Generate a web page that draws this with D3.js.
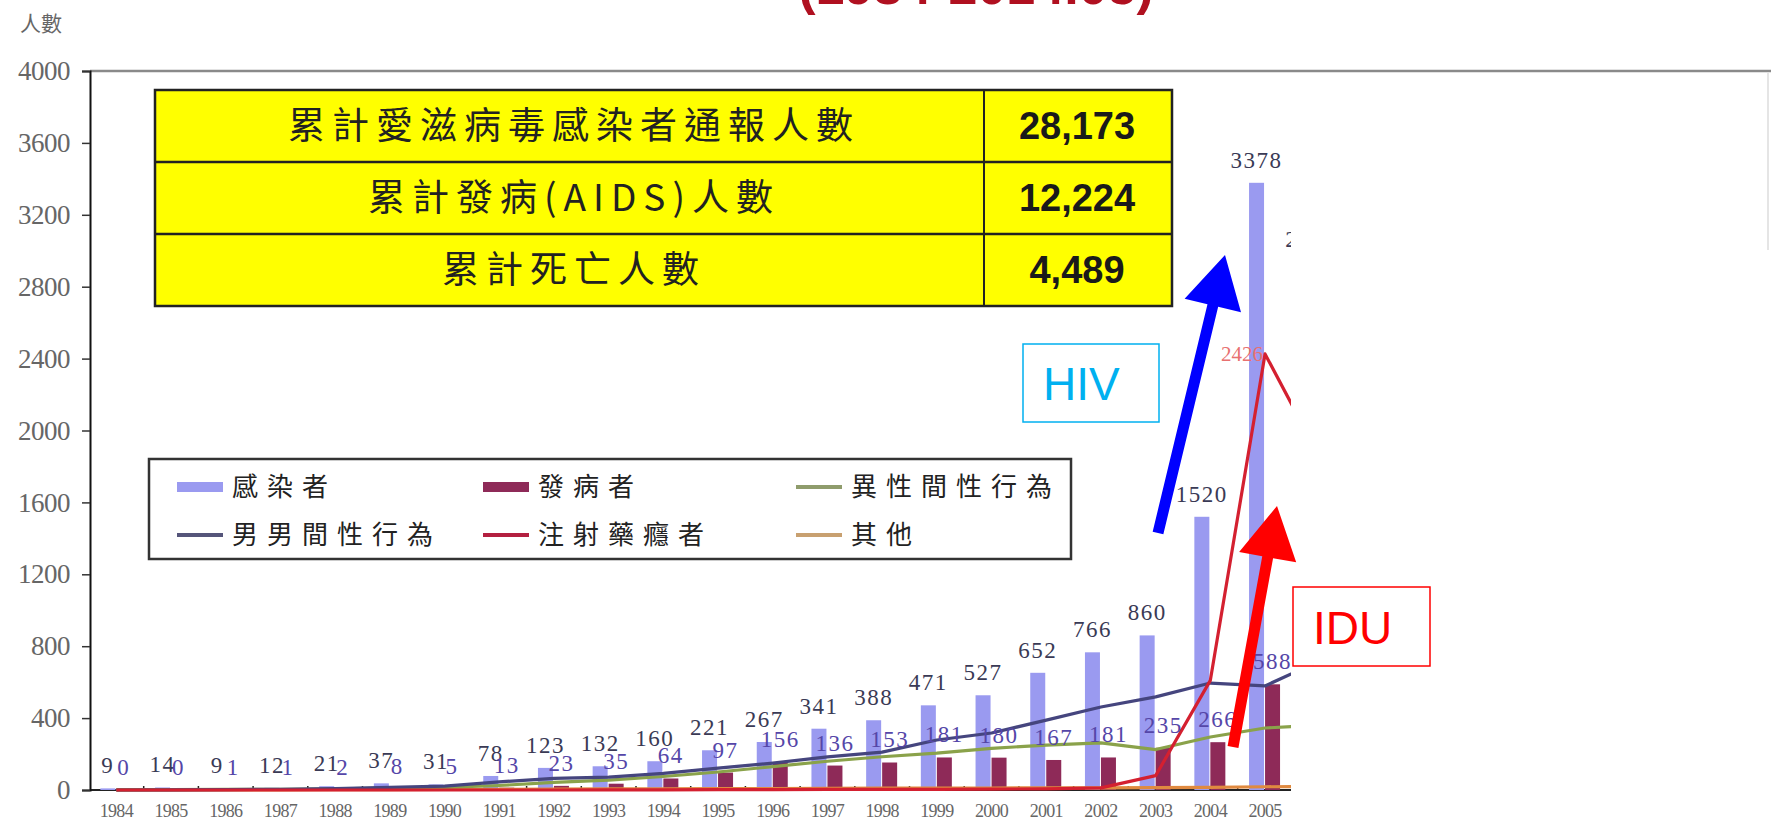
<!DOCTYPE html>
<html>
<head>
<meta charset="utf-8">
<script src="https://cdn.jsdelivr.net/npm/d3@7"></script>
<style>
  body { margin: 0; background: #fff; }
  svg { display: block; }
</style>
</head>
<body>
<div id="chart"></div>
<script>
// data
var years = [1984,1985,1986,1987,1988,1989,1990,1991,1992,1993,1994,1995,1996,1997,1998,1999,2000,2001,2002,2003,2004,2005,2006];
var infected = [9,14,9,12,21,37,31,78,123,132,160,221,267,341,388,471,527,652,766,860,1520,3378,2936];
var onset = [0,0,1,1,2,8,5,13,23,35,64,97,156,136,153,181,180,167,181,235,266,588,600];
var hetero = [1,2,3,4,6,10,14,25,42,55,75,100,130,160,185,205,232,250,262,225,295,345,360];
var msm = [0,1,2,4,8,15,22,45,65,72,92,122,150,184,211,278,317,389,462,518,595,579,720];
var idu = [0,0,0,0,0,0,0,0,0,1,1,2,2,3,3,4,5,6,12,80,610,2426,1850];
var other = [1,1,1,1,2,2,3,4,5,6,7,8,8,9,10,10,11,12,12,13,15,18,20];
var yTicks = [0,400,800,1200,1600,2000,2400,2800,3200,3600,4000];

var summaryLabels = ["累計愛滋病毒感染者通報人數", "累計發病(AIDS)人數", "累計死亡人數"];
var summaryValues = ["28,173", "12,224", "4,489"];

var legendItems = [
  {name: "感染者", type: "bar", color: "#9a9af0"},
  {name: "發病者", type: "bar", color: "#8e2a58"},
  {name: "異性間性行為", type: "line", color: "#8f9c6c"},
  {name: "男男間性行為", type: "line", color: "#55557a"},
  {name: "注射藥癮者", type: "line", color: "#b32040"},
  {name: "其他", type: "line", color: "#c8a070"}
];

var width = 1771, height = 823;
var serif = "'Liberation Serif', 'DejaVu Serif', serif";
var cjk = "'Noto Sans CJK TC', 'Noto Sans CJK SC', sans-serif";
var sans = "'Liberation Sans', Arial, sans-serif";

var svg = d3.select("#chart").append("svg")
  .attr("width", width)
  .attr("height", height);

/* Scale */
var step = 54.7;
var x = d3.scaleBand()
  .domain(years)
  .range([89, 89 + years.length * step]);

var y = d3.scaleLinear()
  .domain([0, 4000])
  .range([790, 71]);

var cx = d => x(d) + x.bandwidth() / 2;

// red title, mostly off the top of the picture
svg.append("text")
  .attr("x", 976).attr("y", 4)
  .attr("text-anchor", "middle")
  .style("font-family", sans)
  .style("font-weight", "bold")
  .style("font-size", "52px")
  .attr("fill", "#b01020")
  .text("(1984-2014.05)");

// y axis caption
svg.append("text")
  .attr("x", 20).attr("y", 31)
  .style("font-family", cjk)
  .style("font-size", "21px")
  .attr("fill", "#666")
  .text("人數");

// frame: top and right edge
svg.append("line")
  .attr("x1", 90).attr("x2", width)
  .attr("y1", y(4000)).attr("y2", y(4000))
  .attr("stroke", "#8a8a8a").attr("stroke-width", 2.5);
svg.append("line")
  .attr("x1", 1768).attr("x2", 1768)
  .attr("y1", 73).attr("y2", 250)
  .attr("stroke", "#ddd").attr("stroke-width", 1.5);

/* plot group, clipped where the slide covers the rest */
svg.append("clipPath").attr("id", "cut")
  .append("rect")
  .attr("x", 0).attr("y", 0)
  .attr("width", 1291).attr("height", height);

var plot = svg.append("g").attr("clip-path", "url(#cut)");

// x baseline and small ticks between years
plot.append("line")
  .attr("x1", 90).attr("x2", width)
  .attr("y1", y(0)).attr("y2", y(0))
  .attr("stroke", "#222").attr("stroke-width", 2);

plot.selectAll(".xtick")
  .data(years).enter()
  .append("line")
  .attr("class", "xtick")
  .attr("x1", d => x(d) + x.bandwidth()).attr("x2", d => x(d) + x.bandwidth())
  .attr("y1", y(0)).attr("y2", y(0) - 4)
  .attr("stroke", "#222").attr("stroke-width", 1.5);

var barW = 15;

plot.selectAll(".bar-inf")
  .data(years).enter()
  .append("rect")
  .attr("class", "bar-inf")
  .attr("x", d => cx(d) - barW - 1)
  .attr("y", (d, i) => y(infected[i]))
  .attr("width", barW)
  .attr("height", (d, i) => y(0) - y(infected[i]))
  .attr("fill", legendItems[0].color);

plot.selectAll(".bar-ons")
  .data(years).enter()
  .append("rect")
  .attr("class", "bar-ons")
  .attr("x", d => cx(d))
  .attr("y", (d, i) => y(onset[i]))
  .attr("width", barW)
  .attr("height", (d, i) => y(0) - y(onset[i]))
  .attr("fill", legendItems[1].color);

/* lines */
var lineSeries = [
  {values: other, color: "#e08a40"},
  {values: hetero, color: "#8aa24a"},
  {values: msm, color: "#45457e"},
  {values: idu, color: "#d42030"}
];

var line = d3.line()
  .x((d, i) => cx(years[i]))
  .y(d => y(d));

plot.selectAll(".series")
  .data(lineSeries).enter()
  .append("path")
  .attr("class", "series")
  .attr("d", d => line(d.values))
  .attr("fill", "none")
  .attr("stroke", d => d.color)
  .attr("stroke-width", 3.2)
  .attr("stroke-linejoin", "round");

/* value labels */
plot.selectAll(".lab-inf")
  .data(years).enter()
  .append("text")
  .attr("class", "lab-inf")
  .attr("x", d => cx(d) - barW / 2 - 1)
  .attr("y", (d, i) => y(infected[i]) - 15)
  .attr("text-anchor", "middle")
  .style("font-family", serif)
  .style("font-size", "23px")
  .style("letter-spacing", "1.5px")
  .attr("fill", "#3a3a55")
  .text((d, i) => infected[i]);

plot.selectAll(".lab-ons")
  .data(years).enter()
  .append("text")
  .attr("class", "lab-ons")
  .attr("x", d => cx(d) + barW / 2)
  .attr("y", (d, i) => y(onset[i]) - 15)
  .attr("text-anchor", "middle")
  .style("font-family", serif)
  .style("font-size", "23px")
  .style("letter-spacing", "1.5px")
  .attr("fill", "#5546a8")
  .text((d, i) => onset[i]);

// peak label of the drug-user line
var peak = years.indexOf(2005);
plot.append("text")
  .attr("x", cx(2005) - 2)
  .attr("y", y(idu[peak]) + 7)
  .attr("text-anchor", "end")
  .style("font-family", serif)
  .style("font-size", "21px")
  .attr("fill", "#e87070")
  .text(idu[peak]);

/* axes */
var yAxis = d3.axisLeft(y).tickValues(yTicks).tickFormat(d3.format("d")).tickSize(8).tickPadding(12);
svg.append("g")
  .attr("class", "y axis")
  .attr("transform", "translate(90,0)")
  .call(yAxis)
  .call(g => g.select(".domain").attr("stroke", "#111").attr("stroke-width", 2))
  .call(g => g.selectAll(".tick line").attr("stroke", "#333").attr("stroke-width", 1.5))
  .call(g => g.selectAll("text")
    .style("font-family", serif)
    .style("font-size", "27px")
    .style("letter-spacing", "-0.5px")
    .attr("fill", "#666"));

var xAxis = d3.axisBottom(x).tickSize(0).tickPadding(14);
plot.append("g")
  .attr("class", "x axis")
  .attr("transform", `translate(0, ${y(0)})`)
  .call(xAxis)
  .call(g => g.select(".domain").remove())
  .call(g => g.selectAll("text")
    .style("font-family", serif)
    .style("font-size", "18px")
    .style("letter-spacing", "-0.7px")
    .attr("fill", "#666"));

/* summary table */
var tbl = svg.append("g");
var tX = 155, tY = 90, tW = 1017, rowH = 72, splitX = 984;
tbl.append("rect")
  .attr("x", tX).attr("y", tY)
  .attr("width", tW).attr("height", rowH * 3)
  .attr("fill", "#ffff00").attr("stroke", "#222").attr("stroke-width", 2.5);
tbl.selectAll(".rowline")
  .data([1, 2]).enter()
  .append("line")
  .attr("x1", tX).attr("x2", tX + tW)
  .attr("y1", d => tY + d * rowH).attr("y2", d => tY + d * rowH)
  .attr("stroke", "#222").attr("stroke-width", 2.5);
tbl.append("line")
  .attr("x1", splitX).attr("x2", splitX)
  .attr("y1", tY).attr("y2", tY + rowH * 3)
  .attr("stroke", "#222").attr("stroke-width", 2);
tbl.selectAll(".tlabel")
  .data(summaryLabels).enter()
  .append("text")
  .attr("x", 574)
  .attr("y", (d, i) => tY + i * rowH + rowH / 2 + 13)
  .attr("text-anchor", "middle")
  .style("font-family", cjk)
  .style("font-size", "37px")
  .style("letter-spacing", "7px")
  .attr("fill", "#222")
  .text(d => d);
tbl.selectAll(".tvalue")
  .data(summaryValues).enter()
  .append("text")
  .attr("x", 1077)
  .attr("y", (d, i) => tY + i * rowH + rowH / 2 + 13)
  .attr("text-anchor", "middle")
  .style("font-family", sans)
  .style("font-weight", "bold")
  .style("font-size", "38px")
  .attr("fill", "#1a1a1a")
  .text(d => d);

/* legend */
var lg = svg.append("g");
lg.append("rect")
  .attr("x", 149).attr("y", 459)
  .attr("width", 922).attr("height", 100)
  .attr("fill", "#fff").attr("stroke", "#333").attr("stroke-width", 2.5);

var colX = [177, 483, 796];
var rowY = [487, 535];
var item = lg.selectAll(".item")
  .data(legendItems).enter()
  .append("g")
  .attr("transform", (d, i) => `translate(${colX[i % 3]}, ${rowY[Math.floor(i / 3)]})`);
item.filter(d => d.type === "bar")
  .append("rect")
  .attr("x", 0).attr("y", -5)
  .attr("width", 46).attr("height", 10)
  .attr("fill", d => d.color);
item.filter(d => d.type === "line")
  .append("line")
  .attr("x1", 0).attr("x2", 46)
  .attr("y1", 0).attr("y2", 0)
  .attr("stroke", d => d.color).attr("stroke-width", 4);
item.append("text")
  .attr("x", 55).attr("y", 9)
  .style("font-family", cjk)
  .style("font-size", "26px")
  .style("letter-spacing", "9px")
  .attr("fill", "#222")
  .text(d => d.name);

/* annotations: HIV / IDU boxes and arrows */
var notes = [
  {text: "HIV", x: 1023, y: 344, w: 136, h: 78, color: "#00b0f0"},
  {text: "IDU", x: 1293, y: 587, w: 137, h: 79, color: "#ff0000"}
];
var note = svg.selectAll(".note")
  .data(notes).enter()
  .append("g");
note.append("rect")
  .attr("x", d => d.x).attr("y", d => d.y)
  .attr("width", d => d.w).attr("height", d => d.h)
  .attr("fill", "#fff").attr("stroke", d => d.color).attr("stroke-width", 1.5);
note.append("text")
  .attr("x", d => d.x + 20).attr("y", d => d.y + d.h / 2 + 17)
  .style("font-family", sans)
  .style("font-size", "46px")
  .attr("fill", d => d.color)
  .text(d => d.text);

var arrows = [
  {from: [1158, 533], to: [1225, 255], color: "#0000ff"},
  {from: [1233, 747], to: [1277, 506], color: "#ff0000"}
];
function arrowPath(a) {
  var dx = a.to[0] - a.from[0], dy = a.to[1] - a.from[1];
  var len = Math.sqrt(dx * dx + dy * dy);
  var ux = dx / len, uy = dy / len, px = -uy, py = ux;
  var shaft = 5.5, head = 29, headLen = 52;
  var bx = a.to[0] - ux * headLen, by = a.to[1] - uy * headLen;
  var pts = [
    [a.from[0] + px * shaft, a.from[1] + py * shaft],
    [bx + px * shaft, by + py * shaft],
    [bx + px * head, by + py * head],
    a.to,
    [bx - px * head, by - py * head],
    [bx - px * shaft, by - py * shaft],
    [a.from[0] - px * shaft, a.from[1] - py * shaft]
  ];
  return "M" + pts.map(p => p.join(",")).join("L") + "Z";
}
svg.selectAll(".arrow")
  .data(arrows).enter()
  .append("path")
  .attr("d", arrowPath)
  .attr("fill", d => d.color);
</script>
</body>
</html>
